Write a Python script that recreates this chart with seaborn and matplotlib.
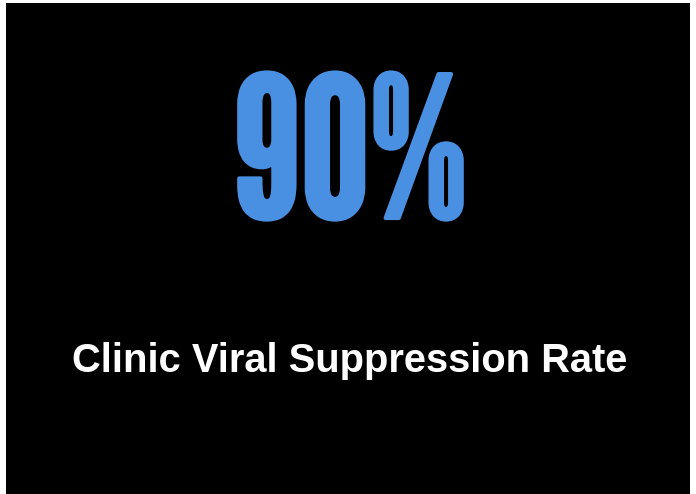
import matplotlib
matplotlib.use("Agg")
import matplotlib.pyplot as plt
import matplotlib.patheffects as pe
import seaborn as sns

# KPI data
kpi_value = [90]
kpi_unit = ["%"]
kpi_label = ["Clinic Viral Suppression Rate"]

sns.set_theme(style="white")
W, H = 696, 494
fig = plt.figure(figsize=(W / 100, H / 100), dpi=100)
fig.patch.set_facecolor("white")

# black card
ax = fig.add_axes([6 / W, 0, 684 / W, (H - 3) / H])
ax.set_facecolor("black")
ax.set_xticks([])
ax.set_yticks([])
for s in ax.spines.values():
    s.set_visible(False)

blue = "#4a90e2"
value_txt = f"{kpi_value[0]}{kpi_unit[0]}"
fig.text(350.5 / W, 1 - 218 / H, value_txt, family=["League Gothic", "DejaVu Sans"],
         fontsize=141, color=blue, ha="center", va="baseline",
         path_effects=[pe.withStroke(linewidth=3, foreground=blue)])

fig.text(349.5 / W, 1 - 372 / H, kpi_label[0], family=["Liberation Sans", "DejaVu Sans"],
         weight="bold", fontsize=28.7, color="white", ha="center", va="baseline")

fig.savefig("out.png", dpi=100, facecolor="white")
